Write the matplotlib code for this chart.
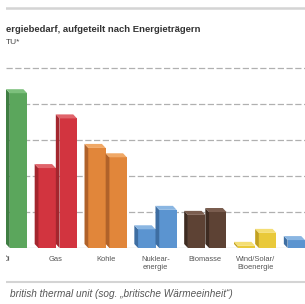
import numpy as np
import matplotlib
matplotlib.use("Agg")
import matplotlib.pyplot as plt
from matplotlib.patches import Rectangle

# ---- data (quadrillion BTU) ----
categories = ["Öl", "Gas", "Kohle", "Nuklear-\nenergie", "Biomasse", "Wind/Solar/\nBioenergie", ""]
series_a = [np.nan, 111, 139, 26, 46, 3, 11]     # left bar of each pair
series_b = [215, 180, 126, 53, 50, 21, np.nan]   # right bar of each pair
grid_values = [50, 100, 150, 200, 250]

front_colors = ["#5ba65c", "#d2343f", "#e1863a", "#5b94d0", "#5d4234", "#e9c93a", "#5b94d0"]
side_colors = ["#3f7e42", "#a3262e", "#b0622a", "#3e6ea2", "#3e2b21", "#c2a11f", "#3e6ea2"]
top_colors = ["#7cc07c", "#e0646b", "#f0a866", "#8ab6e2", "#7a5d4f", "#f4de74", "#8ab6e2"]

title = "ergiebedarf, aufgeteilt nach Energieträgern"
unit = "TU*"
footnote = "british thermal unit (sog. „britische Wärmeeinheit“)"

W, H = 305, 304
fig = plt.figure(figsize=(W / 100, H / 100), dpi=100)
fig.patch.set_facecolor("white")

# axes in pixel geometry
ax_left, ax_right, ax_base, ax_top = 6, 305, 248, 60
ax = fig.add_axes([ax_left / W, (H - ax_base) / H, (ax_right - ax_left) / W, (ax_base - ax_top) / H])

px_per_cat = 53.0
center0 = 4.5
xmin = (ax_left - center0) / px_per_cat
xmax = (ax_right - center0) / px_per_cat
ymax = (ax_base - ax_top) / 36.0 * 50
ax.set_xlim(xmin, xmax)
ax.set_ylim(0, ymax)

bw = 22.5 / px_per_cat
dxu = 4.0 / px_per_cat
dhu = 4.0 / 36.0 * 50

for i in range(len(categories)):
    for s, vals in enumerate([series_a, series_b]):
        v = vals[i]
        if np.isnan(v):
            continue
        x0 = i + (s - 1) * bw
        ax.bar(x0 + dxu, v, width=bw - dxu, align="edge", color=front_colors[i],
               linewidth=0, zorder=3)
        ax.fill([x0, x0 + dxu, x0 + dxu, x0], [dhu, 0, v, v + dhu],
                color=side_colors[i], linewidth=0, zorder=3)
        ax.fill([x0 + dxu, x0 + bw, x0 + bw - dxu, x0], [v, v, v + dhu, v + dhu],
                color=top_colors[i], linewidth=0, zorder=3)

ax.set_yticks(grid_values)
ax.yaxis.grid(True, color="#b0b0b0", linewidth=0.9, linestyle=(0, (5, 2)))
ax.set_axisbelow(True)
ax.tick_params(axis="y", length=0, labelleft=False)
ax.axhline(0, color="#d6d6d6", linewidth=1.0, zorder=1)
for sp in ax.spines.values():
    sp.set_visible(False)

ax.set_xticks(range(len(categories)))
ax.set_xticklabels(categories, fontsize=5.4, color="#555555", linespacing=1.3,
                   family="Liberation Sans")
ax.tick_params(axis="x", length=0, pad=5.5)

# header / footer
fig.add_artist(plt.Line2D([6 / W, 1], [1 - 7.5 / H, 1 - 7.5 / H], color="#d4d4d4",
                          linewidth=1.8, transform=fig.transFigure))
fig.text(6 / W, 1 - 29 / H, title, fontsize=6.8, fontweight="bold", color="#333333",
         va="center", ha="left", family="Liberation Sans")
fig.text(6 / W, 1 - 42 / H, unit, fontsize=6.0, color="#444444", va="center", ha="left",
         family="Liberation Sans")
fig.add_artist(plt.Line2D([6 / W, 1], [1 - 282 / H, 1 - 282 / H], color="#d4d4d4",
                          linewidth=1.5, transform=fig.transFigure))
fig.text(10 / W, 1 - 294 / H, footnote, fontsize=7.2, style="italic", color="#555555",
         va="center", ha="left", family="Liberation Sans")

# the reference is cut off at its left border
fig.patches.append(Rectangle((0, 0), 6 / W, 1, transform=fig.transFigure,
                             facecolor="white", edgecolor="none", zorder=10))

fig.savefig("out.png", dpi=100)
